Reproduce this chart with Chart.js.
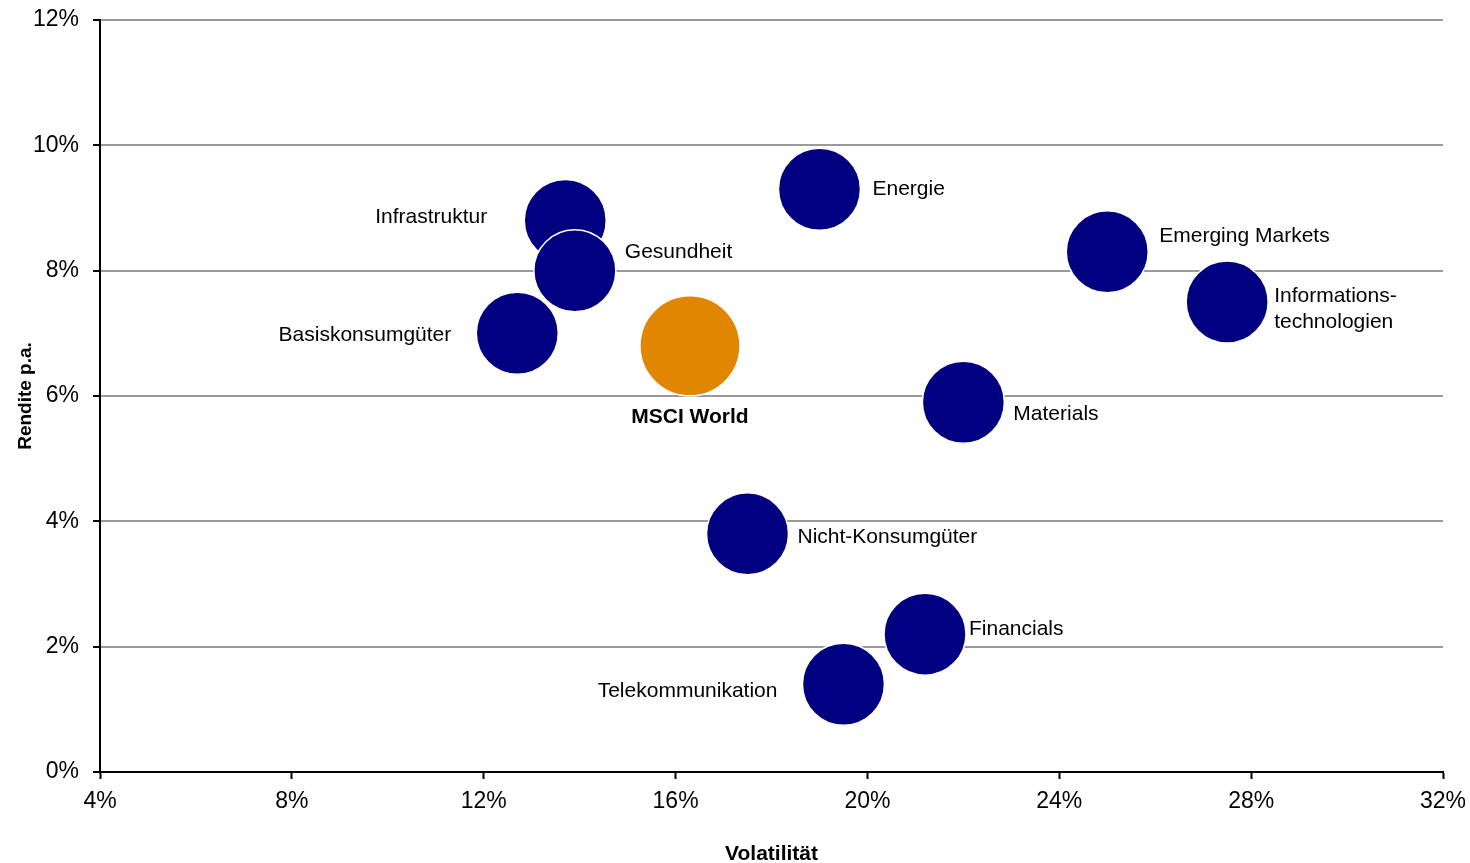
<!DOCTYPE html>
<html lang="de">
<head>
<meta charset="utf-8">
<title>Rendite und Volatilität nach Sektoren</title>
<script src="https://cdn.jsdelivr.net/npm/chart.js@4.4.1/dist/chart.umd.min.js"></script>
<style>
  html, body { margin: 0; padding: 0; background: #ffffff; }
  #wrap { width: 1470px; height: 863px; }
</style>
</head>
<body>
<div id="wrap"><canvas id="chart" width="1470" height="863"></canvas></div>
<script>
// Sektoren: Volatilität (x, % p.a.) und Rendite (y, % p.a.)
const sectors = ['Infrastruktur', 'Gesundheit', 'Basiskonsumgüter', 'Energie', 'Emerging Markets',
                 'Informations-\ntechnologien', 'Materials', 'Nicht-Konsumgüter', 'Financials', 'Telekommunikation'];
const sectorVolatility = [13.7, 13.9, 12.7, 19.0, 25.0, 27.5, 22.0, 17.5, 21.2, 19.5];
const sectorReturn     = [8.8, 8.0, 7.0, 9.3, 8.3, 7.5, 5.9, 3.8, 2.2, 1.4];

// Gesamtmarkt
const benchmarkName = 'MSCI World';
const benchmarkVolatility = [16.3];
const benchmarkReturn = [6.8];

// Achsenbeschriftung
const xTicks = [4, 8, 12, 16, 20, 24, 28, 32];
const yTicks = [0, 2, 4, 6, 8, 10, 12];

// Lage der Beschriftung relativ zum Blasenmittelpunkt
const labelPlacement = {
  'Infrastruktur':               { dx: -78, dy: -3,  align: 'right' },
  'Gesundheit':                  { dx: 50,  dy: -18, align: 'left' },
  'Basiskonsumgüter':            { dx: -66, dy: 2,   align: 'right' },
  'Energie':                     { dx: 53,  dy: 0,   align: 'left' },
  'Emerging Markets':            { dx: 52,  dy: -16, align: 'left' },
  'Informations-\ntechnologien': { dx: 47,  dy: -6,  align: 'left' },
  'Materials':                   { dx: 50,  dy: 12,  align: 'left' },
  'Nicht-Konsumgüter':           { dx: 50,  dy: 3,   align: 'left' },
  'Financials':                  { dx: 44,  dy: -5,  align: 'left' },
  'Telekommunikation':           { dx: -66, dy: 7,   align: 'right' },
  'MSCI World':                  { dx: 0,   dy: 71,  align: 'center', bold: true }
};

const FONT = '"Liberation Sans", Arial, Helvetica, sans-serif';

const bubbleLabels = {
  id: 'bubbleLabels',
  afterDatasetsDraw(chart) {
    const ctx = chart.ctx;
    ctx.save();
    ctx.fillStyle = '#000000';
    ctx.textBaseline = 'middle';
    chart.data.datasets.forEach((ds, di) => {
      const meta = chart.getDatasetMeta(di);
      meta.data.forEach((el, i) => {
        const name = ds.names[i];
        const p = labelPlacement[name];
        ctx.font = (p.bold ? 'bold ' : '') + '21px ' + FONT;
        ctx.textAlign = p.align;
        name.split('\n').forEach((line, li) => {
          ctx.fillText(line, el.x + p.dx, el.y + p.dy + li * 26);
        });
      });
    });
    ctx.restore();
  }
};

new Chart(document.getElementById('chart'), {
  type: 'bubble',
  data: {
    datasets: [
      {
        label: 'Sektoren',
        names: sectors,
        data: sectors.map((s, i) => ({ x: sectorVolatility[i], y: sectorReturn[i] })),
        backgroundColor: '#000080',
        borderColor: '#ffffff',
        borderWidth: 1.5,
        radius: 41
      },
      {
        label: benchmarkName,
        names: [benchmarkName],
        data: benchmarkVolatility.map((v, i) => ({ x: v, y: benchmarkReturn[i] })),
        backgroundColor: '#E08600',
        borderColor: '#ffffff',
        borderWidth: 1.5,
        radius: 50
      }
    ]
  },
  options: {
    responsive: false,
    animation: false,
    events: [],
    layout: { autoPadding: false, padding: { left: 0, right: 27, top: 20, bottom: 0 } },
    plugins: {
      legend: { display: false },
      tooltip: { enabled: false }
    },
    scales: {
      x: {
        type: 'linear',
        min: xTicks[0],
        max: xTicks[xTicks.length - 1],
        afterBuildTicks: (scale) => { scale.ticks = xTicks.map(v => ({ value: v })); },
        afterFit: (scale) => {
          scale.height = 91;
          scale.paddingLeft = 0;
          scale.paddingRight = 0;
        },
        ticks: {
          callback: (v) => v + '%',
          color: '#000000',
          font: { family: FONT, size: 23 },
          padding: 9,
          maxRotation: 0
        },
        grid: {
          drawOnChartArea: false,
          drawTicks: true,
          tickLength: 7,
          tickColor: '#000000',
          tickWidth: 2
        },
        border: { color: '#000000', width: 2 },
        title: {
          display: true,
          text: 'Volatilität',
          color: '#000000',
          font: { family: FONT, size: 21, weight: 'bold' },
          padding: { top: 0, bottom: -4 }
        }
      },
      y: {
        type: 'linear',
        min: yTicks[0],
        max: yTicks[yTicks.length - 1],
        afterBuildTicks: (scale) => { scale.ticks = yTicks.map(v => ({ value: v })); },
        afterFit: (scale) => {
          scale.width = 100;
          scale.paddingTop = 0;
          scale.paddingBottom = 0;
        },
        ticks: {
          callback: (v) => v + '%',
          color: '#000000',
          font: { family: FONT, size: 23 },
          padding: 14
        },
        grid: {
          color: '#999999',
          lineWidth: 2,
          drawTicks: true,
          tickLength: 7,
          tickColor: '#000000',
          tickWidth: 2
        },
        border: { color: '#000000', width: 2 },
        title: {
          display: true,
          text: 'Rendite p.a.',
          color: '#000000',
          font: { family: FONT, size: 19, weight: 'bold' },
          padding: { top: 14, bottom: 0 }
        }
      }
    }
  },
  plugins: [bubbleLabels]
});
</script>
</body>
</html>
